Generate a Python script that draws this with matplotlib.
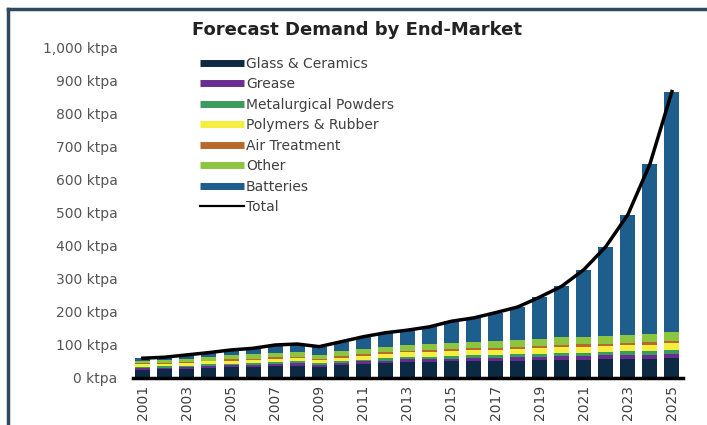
import matplotlib
matplotlib.use("Agg")
import matplotlib.pyplot as plt
from matplotlib.lines import Line2D
import numpy as np

years = list(range(2001, 2026))
glass = [25, 26, 28, 30, 32, 34, 36, 37, 33, 38, 42, 45, 48, 49, 50, 51, 52, 53, 54, 55, 56, 57, 58, 59, 60]
grease = [5, 5, 5, 6, 6, 6, 7, 7, 6, 7, 8, 8, 9, 9, 9, 10, 10, 10, 11, 11, 11, 12, 12, 12, 13]
metal = [4, 4, 4, 5, 5, 5, 5, 6, 5, 6, 6, 7, 7, 7, 8, 8, 8, 9, 9, 10, 10, 10, 11, 11, 12]
polymers = [8, 8, 9, 9, 10, 10, 11, 11, 10, 11, 12, 13, 14, 14, 15, 15, 16, 16, 17, 17, 18, 18, 19, 19, 20]
air = [3, 3, 3, 3, 4, 4, 4, 4, 4, 4, 5, 5, 5, 5, 5, 6, 6, 6, 6, 7, 7, 7, 7, 8, 8]
other = [8, 9, 10, 11, 12, 13, 14, 15, 13, 15, 16, 17, 18, 19, 19, 20, 21, 21, 22, 23, 23, 24, 24, 25, 25]
batteries = [7, 8, 11, 13, 16, 18, 23, 23, 24, 29, 36, 42, 44, 52, 66, 72, 85, 100, 126, 155, 203, 270, 364, 514, 730]
total = [60, 63, 70, 77, 85, 90, 100, 103, 95, 110, 125, 137, 145, 155, 172, 182, 198, 215, 245, 278, 328, 398, 495, 648, 868]

series = [
    ("Glass & Ceramics", glass, "#0d2a44"),
    ("Grease", grease, "#6a2c91"),
    ("Metalurgical Powders", metal, "#3b9b5c"),
    ("Polymers & Rubber", polymers, "#f4ee3e"),
    ("Air Treatment", air, "#b8692b"),
    ("Other", other, "#8cc640"),
    ("Batteries", batteries, "#1d5e8c"),
]

fig = plt.figure(figsize=(7.07, 4.25), dpi=100)
ax = fig.add_axes([0.188, 0.1106, 0.778, 0.7765])

x = np.array(years)
bottom = np.zeros(len(years))
handles = []
for name, vals, col in series:
    ax.bar(x, vals, width=0.68, bottom=bottom, color=col, linewidth=0)
    bottom += np.array(vals)
    handles.append(Line2D([0], [0], color=col, lw=5, solid_capstyle="butt", label=name))

ax.plot(x, total, color="black", lw=2.5, zorder=5)
handles.append(Line2D([0], [0], color="black", lw=1.6, label="Total"))

ax.set_xlim(2000.55, 2025.5)
ax.set_ylim(0, 1000)
ax.set_yticks(range(0, 1001, 100))
ax.set_yticklabels([f"{v:,} ktpa" for v in range(0, 1001, 100)])
ax.set_xticks(years[::2])
ax.set_xticklabels([str(y) for y in years[::2]], rotation=90)
ax.tick_params(axis="y", length=0, pad=11, labelsize=10, labelcolor="#555555")
ax.tick_params(axis="x", length=0, pad=5, labelsize=10, labelcolor="#404040")
for s in ["left", "right", "top"]:
    ax.spines[s].set_visible(False)
ax.spines["bottom"].set_linewidth(2.5)
ax.spines["bottom"].set_color("black")

leg = fig.legend(handles=handles, loc="upper left", bbox_to_anchor=(0.275, 0.88),
                 frameon=False, fontsize=10, handlelength=3.2, handletextpad=0.1,
                 labelspacing=0.47, borderaxespad=0)
for t in leg.get_texts():
    t.set_color("#404040")

fig.text(0.505, 0.929, "Forecast Demand by End-Market", ha="center", va="center",
         fontsize=13, fontweight="bold", color="#222222")

# frame lines around the picture
fig.add_artist(Line2D([8 / 707, 1], [1 - 9 / 425, 1 - 9 / 425], color="#2e4a5e", lw=2.5))
fig.add_artist(Line2D([8 / 707, 8 / 707], [0, 1 - 9 / 425], color="#2e4a5e", lw=2.5))

fig.savefig("out.png", dpi=100)
